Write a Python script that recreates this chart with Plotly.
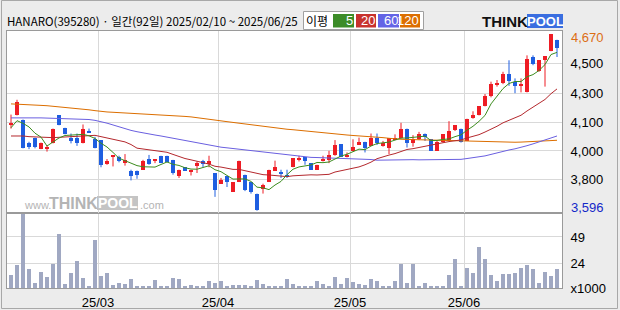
import plotly.graph_objects as go

# ---------------- data ----------------
name = "HANARO"
code = "395280"
period_label = "일간"
n_days_label = "92일"
date_from = "2025/02/10"
date_to = "2025/06/25"

opens = [4115, 4180, 4145, 4010, 4040, 3970, 3975, 4005, 4175, 4100,
         4040, 4040, 4010, 4080, 4030, 4025, 3880, 3925, 3920, 3885,
         3840, 3835, 3845, 3910, 3900, 3930, 3930, 3905, 3805, 3860,
         3835, 3870, 3900, 3885, 3825, 3760, 3805, 3710, 3770, 3815,
         3770, 3700, 3730, 3770, 3840, 3825, 3815, 3860, 3910, 3920,
         3885, 3845, 3895, 3905, 3935, 4000, 3925, 3960, 3995, 4015,
         3990, 4040, 3990, 3980, 4030, 4035, 4095, 4010, 4030, 4065,
         4030, 3960, 4015, 4025, 4085, 4090, 4020, 4160, 4175, 4235,
         4290, 4365, 4370, 4425, 4380, 4355, 4315, 4530, 4445, 4510,
         4565, 4635]
highs = [4180, 4270, 4150, 4015, 4040, 4010, 3995, 4095, 4175, 4100,
         4065, 4065, 4120, 4095, 4045, 4025, 3910, 3930, 3930, 3940,
         3845, 3840, 3905, 3935, 3910, 3930, 3930, 3905, 3845, 3860,
         3845, 3895, 3905, 3930, 3825, 3795, 3805, 3770, 3900, 3815,
         3770, 3700, 3760, 3845, 3900, 3845, 3845, 3915, 3930, 3920,
         3885, 3875, 3930, 3960, 4025, 4000, 3950, 4030, 4040, 4015,
         4065, 4065, 4020, 4035, 4060, 4130, 4095, 4055, 4075, 4065,
         4030, 4020, 4060, 4140, 4115, 4095, 4155, 4200, 4230, 4305,
         4380, 4390, 4440, 4510, 4400, 4400, 4540, 4540, 4510, 4535,
         4670, 4635]
lows = [4095, 4175, 3975, 3970, 3975, 3970, 3955, 4005, 4115, 4060,
        4005, 3990, 4005, 4070, 3975, 3860, 3875, 3865, 3890, 3870,
        3780, 3790, 3845, 3875, 3885, 3885, 3890, 3815, 3795, 3840,
        3810, 3825, 3860, 3860, 3680, 3760, 3740, 3710, 3770, 3715,
        3700, 3596, 3700, 3770, 3840, 3795, 3795, 3860, 3895, 3875,
        3845, 3845, 3895, 3885, 3930, 3925, 3920, 3955, 3995, 3950,
        3990, 3995, 3985, 3940, 4030, 4035, 3980, 3985, 4025, 4020,
        3960, 3960, 4010, 4020, 4080, 4010, 4020, 4155, 4175, 4230,
        4285, 4350, 4365, 4355, 4310, 4315, 4315, 4480, 4440, 4350,
        4565, 4530]
closes = [4130, 4255, 3980, 3985, 3985, 4010, 3985, 4095, 4115, 4060,
          4020, 4010, 4095, 4070, 3980, 3875, 3895, 3930, 3895, 3905,
          3805, 3815, 3895, 3880, 3910, 3885, 3890, 3825, 3845, 3840,
          3845, 3885, 3880, 3895, 3720, 3785, 3770, 3770, 3900, 3720,
          3710, 3600, 3750, 3845, 3860, 3820, 3800, 3915, 3915, 3895,
          3845, 3875, 3910, 3935, 3995, 3925, 3930, 3985, 4015, 3980,
          4035, 4005, 4010, 4035, 4040, 4095, 4010, 4030, 4065, 4045,
          3960, 4015, 4060, 4080, 4115, 4015, 4155, 4180, 4230, 4295,
          4365, 4375, 4425, 4385, 4355, 4365, 4520, 4490, 4510, 4535,
          4670, 4585]
volumes_k = [12.5, 22, 75, 18.6, 5, 15.4, 10.6, 23.4, 52, 3.8,
             14.4, 26, 10, 2.2, 46.5, 11.5, 14.4, 2.9, 4.8, 3.8,
             8.7, 1.3, 1.9, 2, 7.7, 1, 1, 9.6, 8.7, 1,
             2.9, 1, 1, 6.7, 4.8, 6.7, 1, 2.9, 2.9, 2.9,
             2, 7.7, 3.8, 1, 1, 1, 8.7, 3.8, 1, 1.9,
             2, 6.7, 3.8, 1.9, 10.6, 3.8, 9.6, 5.8, 3.8, 2.9,
             8.7, 6.7, 1.9, 1.9, 6.7, 23, 4.8, 23, 1.9, 4.8,
             1, 1, 1, 12.5, 27.9, 1, 19.2, 14.4, 39.4, 27.9,
             12.5, 6.7, 13.5, 13.5, 14.4, 19.2, 22, 18.3, 4.8, 15.4,
             11.5, 18.3]
ma5 = [4100, 4143, 4127, 4105, 4067, 4043, 3989, 4012, 4038, 4053,
       4055, 4060, 4060, 4051, 4035, 4006, 3983, 3950, 3915, 3900,
       3886, 3870, 3863, 3860, 3861, 3877, 3892, 3878, 3871, 3857,
       3849, 3848, 3859, 3869, 3845, 3833, 3810, 3788, 3789, 3789,
       3774, 3739, 3735, 3724, 3752, 3774, 3815, 3848, 3862, 3869,
       3874, 3889, 3888, 3892, 3912, 3928, 3939, 3954, 3970, 3967,
       3989, 4004, 4009, 4013, 4025, 4037, 4038, 4042, 4048, 4049,
       4022, 4023, 4029, 4032, 4046, 4057, 4085, 4109, 4139, 4175,
       4245, 4289, 4338, 4369, 4381, 4381, 4410, 4423, 4448, 4484,
       4545, 4558]
ma20 = [4050, 4052, 4050, 4046, 4044, 4042, 4040, 4040, 4042, 4044,
        4046, 4048, 4052, 4056, 4054, 4046, 4038, 4030, 4022, 4014,
        3998, 3976, 3971, 3966, 3962, 3956, 3951, 3938, 3924, 3913,
        3905, 3898, 3888, 3879, 3866, 3861, 3855, 3847, 3847, 3838,
        3833, 3822, 3815, 3813, 3811, 3808, 3803, 3808, 3811, 3814,
        3814, 3813, 3815, 3817, 3831, 3838, 3846, 3856, 3862, 3875,
        3891, 3912, 3925, 3934, 3943, 3957, 3968, 3973, 3981, 3988,
        3994, 4001, 4009, 4016, 4022, 4026, 4038, 4047, 4058, 4074,
        4090, 4109, 4130, 4147, 4163, 4176, 4202, 4225, 4247, 4272,
        4307, 4336]
ma60 = [4160, 4161, 4161, 4160, 4160, 4160, 4159, 4159, 4159, 4158,
        4157, 4155, 4153, 4150, 4145, 4138, 4128, 4117, 4105, 4093,
        4084, 4076, 4068, 4062, 4056, 4050, 4043, 4036, 4029, 4022,
        4015, 4008, 4001, 3994, 3987, 3982, 3978, 3974, 3968, 3963,
        3959, 3955, 3951, 3948, 3944, 3940, 3935, 3930, 3926, 3923,
        3920, 3919, 3918, 3917, 3917, 3916, 3915, 3913, 3911, 3909,
        3907, 3903, 3904, 3905, 3905, 3907, 3907, 3906, 3905, 3905,
        3904, 3904, 3904, 3904, 3906, 3908, 3913, 3917, 3922, 3929,
        3938, 3948, 3956, 3965, 3972, 3980, 3991, 4002, 4013, 4025,
        4038, 4050]
ma120 = [4245, 4244, 4242, 4240, 4238, 4236, 4234, 4231, 4228, 4225,
         4222, 4218, 4214, 4209, 4204, 4199, 4196, 4194, 4192, 4190,
         4189, 4188, 4186, 4184, 4183, 4181, 4178, 4175, 4172, 4169,
         4166, 4162, 4157, 4152, 4147, 4142, 4137, 4132, 4127, 4122,
         4117, 4112, 4107, 4102, 4097, 4094, 4091, 4088, 4084, 4080,
         4076, 4074, 4072, 4068, 4064, 4060, 4056, 4053, 4051, 4048,
         4046, 4043, 4040, 4036, 4032, 4030, 4029, 4028, 4026, 4025,
         4024, 4022, 4020, 4019, 4018, 4017, 4016, 4015, 4014, 4013,
         4012, 4012, 4012, 4012, 4012, 4013, 4014, 4016, 4018, 4020,
         4022, 4024]
month_start_idx = [15, 35, 57, 76]
month_labels = ["25/03", "25/04", "25/05", "25/06"]
price_grid_vals = [4488, 4311, 4135, 3959, 3783]
price_grid_labels = ["4,500", "4,300", "4,100", "4,000", "3,800"]
vol_tick_vals = [0, 24, 49]
vol_tick_labels = ["x1000", "24", "49"]
ma_periods = ["5", "20", "60", "120"]

# ---------------- styles ----------------
UP = "#ee1c24"
DOWN = "#1f5ee0"
MA_COLORS = ["#3c8c1e", "#b4282d", "#6a5fe0", "#dc6e00"]
LEG_COLORS = ["#3c8c28", "#c8322d", "#6464e6", "#dc6e00"]
VOL_COLOR = "#a0a8c2"
GRID = "#d9d9d9"
FRAME = "#9a9a9a"
NUMFONT = "Liberation Sans, Arial, sans-serif"
KFONT = "Noto Sans CJK KR, sans-serif"

W, H = 620, 310
PL, PR, PT, PB, PS = 7, 562, 31, 288, 213


def fx(px):
    return (px - PL) / (PR - PL)


def fy(py):
    return (PB - py) / (PB - PT)


split = fy(PS)
x_range = [(PL - 11) / 6, (PR - 11) / 6]
price_range = [3582, 4688]
vol_range = [0, 72]

idx = list(range(len(closes)))

fig = go.Figure()

# volume
fig.add_trace(go.Bar(x=idx, y=volumes_k, width=0.83, marker=dict(color=VOL_COLOR, line_width=0),
                     xaxis="x", yaxis="y2", hoverinfo="skip"))

# candles
for is_up, col in [(True, UP), (False, DOWN)]:
    sel = [i for i in idx if (closes[i] >= opens[i]) == is_up]
    wx, wy = [], []
    for i in sel:
        wx += [i, i, None]
        wy += [lows[i], highs[i], None]
    fig.add_trace(go.Scatter(x=wx, y=wy, mode="lines", line=dict(color=col, width=1),
                             xaxis="x2", yaxis="y", hoverinfo="skip"))
    bases = [min(opens[i], closes[i]) for i in sel]
    hts = [max(abs(closes[i] - opens[i]), 8) for i in sel]
    fig.add_trace(go.Bar(x=sel, y=hts, base=bases, width=0.83,
                         marker=dict(color=col, line_width=0),
                         xaxis="x2", yaxis="y", hoverinfo="skip"))

# moving averages
for series, col in zip([ma120, ma60, ma20, ma5], MA_COLORS[::-1]):
    fig.add_trace(go.Scatter(x=idx, y=series, mode="lines", line=dict(color=col, width=1),
                             xaxis="x2", yaxis="y", hoverinfo="skip"))

axis_common = dict(showline=True, mirror=True, linecolor=FRAME, linewidth=1, zeroline=False,
                   gridcolor=GRID, gridwidth=1, ticks="")

fig.update_layout(
    width=W, height=H,
    margin=dict(l=PL, r=W - PR, t=PT, b=H - PB, autoexpand=False),
    paper_bgcolor="#ececec", plot_bgcolor="#ffffff",
    showlegend=False, barmode="overlay", bargap=0,
    xaxis=dict(domain=[0, 1], anchor="y2", range=x_range, tickmode="array",
               tickvals=[m - 0.5 for m in month_start_idx], ticktext=month_labels,
               showgrid=True, tickfont=dict(family=NUMFONT, size=13, color="#000"),
               ticklabelstandoff=2, **axis_common),
    xaxis2=dict(domain=[0, 1], anchor="y", range=x_range, matches="x", tickmode="array",
                tickvals=[m - 0.5 for m in month_start_idx], showticklabels=False,
                showgrid=True, **axis_common),
    yaxis=dict(domain=[split, 1], anchor="x2", side="right", range=price_range,
               tickmode="array", tickvals=price_grid_vals, ticktext=price_grid_labels,
               showgrid=True, tickfont=dict(family=NUMFONT, size=13, color="#000"),
               ticklabelstandoff=5, **axis_common),
    yaxis2=dict(domain=[0, split], anchor="x", side="right", range=vol_range,
                tickmode="array", tickvals=vol_tick_vals, ticktext=vol_tick_labels,
                showgrid=True, tickfont=dict(family=NUMFONT, size=13, color="#000"),
                ticklabelstandoff=5, **axis_common),
)

shapes = []
ann = []

# outer border
shapes.append(dict(type="rect", xref="paper", yref="paper", x0=fx(1.5), x1=fx(617.5),
                   y0=fy(308.5), y1=fy(0.5), line=dict(color="#a8a8a8", width=1), fillcolor="rgba(0,0,0,0)",
                   layer="below"))

# header
header = f"{name}({code}) · {period_label}({n_days_label}) {date_from} ~ {date_to}"
ann.append(dict(xref="paper", yref="paper", x=fx(6), y=fy(21.5), xanchor="left", yanchor="middle",
                text=header, showarrow=False, borderpad=0,
                font=dict(family=KFONT, size=11.5, color="#000")))

# MA legend box
shapes.append(dict(type="rect", xref="paper", yref="paper", x0=fx(303.5), x1=fx(423.5), y0=fy(29.5), y1=fy(11.5),
                   line=dict(color="#a0a0a0", width=1), fillcolor="#ffffff"))
ann.append(dict(xref="paper", yref="paper", x=fx(305), y=fy(21), xanchor="left", yanchor="middle",
                text="이평", showarrow=False, borderpad=0, font=dict(family=KFONT, size=12, color="#000")))
box_x = [(333, 354), (356, 376), (378, 399), (400, 420)]
for (x0, x1), col, lab in zip(box_x, LEG_COLORS, ma_periods):
    shapes.append(dict(type="rect", xref="paper", yref="paper", x0=fx(x0), x1=fx(x1), y0=fy(27.5), y1=fy(14),
                       line=dict(width=0), fillcolor=col))
    ann.append(dict(xref="paper", yref="paper", x=fx(x1), y=fy(21), xanchor="right", yanchor="middle",
                    text=lab, showarrow=False, borderpad=0,
                    font=dict(family=NUMFONT, size=13, color="#ffffff")))

# ThinkPool logo
ann.append(dict(xref="paper", yref="paper", x=fx(481), y=fy(21.5), xanchor="left", yanchor="middle",
                text="<b>THINK</b>", showarrow=False, borderpad=0,
                font=dict(family="Liberation Sans, Arial", size=15, color="#111")))
shapes.append(dict(type="rect", xref="paper", yref="paper", x0=fx(527), x1=fx(563), y0=fy(28), y1=fy(14),
                   line=dict(width=0), fillcolor="#3a6ee0"))
ann.append(dict(xref="paper", yref="paper", x=fx(545), y=fy(21.5), xanchor="center", yanchor="middle",
                text="<b>POOL</b>", showarrow=False, borderpad=0,
                font=dict(family="Liberation Sans, Arial", size=13, color="#ffffff")))

# max / min price labels
pmax, pmin = max(highs), min(lows)
ann.append(dict(xref="paper", yref="y", x=1, y=pmax, xanchor="left", yanchor="middle", xshift=8, yshift=-4,
                text=f"{pmax:,}", showarrow=False, borderpad=0,
                font=dict(family=NUMFONT, size=13, color="#dc6e14")))
ann.append(dict(xref="paper", yref="y", x=1, y=pmin, xanchor="left", yanchor="middle", xshift=8, yshift=3,
                text=f"{pmin:,}", showarrow=False, borderpad=0,
                font=dict(family=NUMFONT, size=13, color="#1428c8")))

# watermark
WM = "#b4b4b4"
ann.append(dict(xref="paper", yref="paper", x=fx(23), y=fy(205), xanchor="left", yanchor="middle",
                text="www.", showarrow=False, borderpad=0,
                font=dict(family="Liberation Sans, Arial", size=11, color=WM)))
ann.append(dict(xref="paper", yref="paper", x=fx(48), y=fy(203), xanchor="left", yanchor="middle",
                text="<b>THINK</b>", showarrow=False, borderpad=0,
                font=dict(family="Liberation Sans, Arial", size=16, color=WM)))
shapes.append(dict(type="rect", xref="paper", yref="paper", x0=fx(97), x1=fx(138), y0=fy(210), y1=fy(196),
                   line=dict(width=0), fillcolor="#c4c4c4"))
ann.append(dict(xref="paper", yref="paper", x=fx(117.5), y=fy(203), xanchor="center", yanchor="middle",
                text="<b>POOL</b>", showarrow=False, borderpad=0,
                font=dict(family="Liberation Sans, Arial", size=14, color="#ffffff")))
ann.append(dict(xref="paper", yref="paper", x=fx(139), y=fy(205), xanchor="left", yanchor="middle",
                text=".com", showarrow=False, borderpad=0,
                font=dict(family="Liberation Sans, Arial", size=11, color=WM)))

fig.update_layout(shapes=shapes, annotations=ann)

fig.write_html("out.html", config={"displayModeBar": False},
               post_script="document.body.style.margin='0';document.body.style.padding='0';")
